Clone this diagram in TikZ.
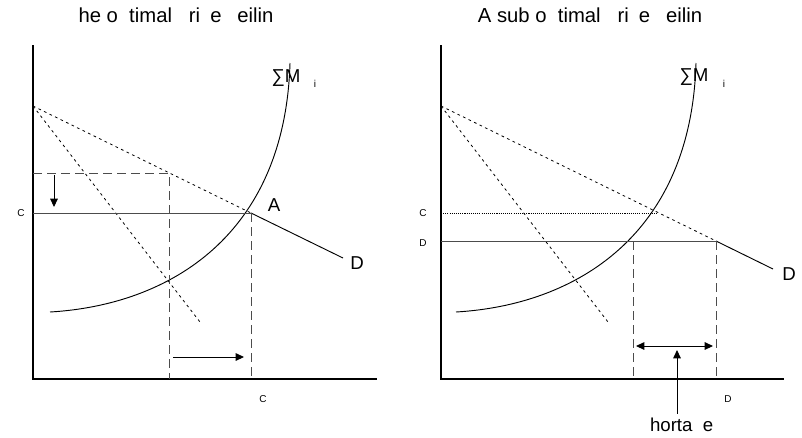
\documentclass[tikz,border=0pt]{standalone}
\usepackage{fontspec}
\setmainfont{Liberation Sans}
\usetikzlibrary{arrows.meta}

\begin{document}
\begin{tikzpicture}[
  x=0.75pt, y=-0.75pt, font=\fontsize{14}{16}\selectfont,
  >={Triangle[length=2.2mm,width=2mm]},
  axis/.style={line width=1.5pt},
  dem/.style={dash pattern=on 2pt off 2.6pt, line width=0.6pt},
  guide/.style={dash pattern=on 7pt off 3.5pt, gray!60!black, line width=0.7pt},
  lvl/.style={line width=0.7pt, gray!60!black},
  fine/.style={dash pattern=on 0.8pt off 0.8pt, line width=0.6pt},
  curve/.style={line width=0.7pt},
  ttl/.style={font=\fontsize{15.2}{17}\selectfont},
  lbl/.style={inner sep=0pt, font=\fontsize{7.5}{9}\selectfont},
  arr/.style={->, line width=0.7pt}]
  \useasboundingbox (0,0) rectangle (802,437);
  % left panel: optimal ceiling
  \node[ttl] (ttl1) at (176,17) {he o\phantom{p}timal \phantom{p}ri\phantom{c}e \phantom{c}eilin};
  \coordinate (top1) at (33,45);
  \coordinate (o1) at (33,379);
  \coordinate (end1) at (377,379);
  \coordinate (int1) at (33,106);
  \coordinate (A1) at (251,213);
  \coordinate (dend1) at (343,258);
  \coordinate (steep1) at (200,322);
  \coordinate (mcs1) at (50,312);
  \coordinate (mct1) at (290,63);
  \coordinate (pc1) at (33,213);
  \coordinate (pm1) at (33,173);
  \coordinate (pk1) at (169,173);
  \coordinate (qk1) at (169,379);
  \coordinate (qc1) at (251,379);
  \coordinate (da1) at (54,175);
  \coordinate (db1) at (54,207);
  \coordinate (ra1) at (173,357);
  \coordinate (rb1) at (244,357);
  \draw[axis] (top1) -- (o1) -- (end1);
  \draw[dem] (int1) -- (A1);
  \draw[curve] (A1) -- (dend1);
  \draw[dem] (int1) -- (steep1);
  \draw[curve] (mcs1) .. controls (170,305) and (285,235) .. (mct1);
  \draw[lvl] (pc1) -- (A1);
  \draw[guide] (pm1) -- (pk1) -- (qk1);
  \draw[guide] (A1) -- (qc1);
  \draw[arr] (da1) -- (db1);
  \draw[arr] (ra1) -- (rb1);
  \node[lbl] (c1) at (21,213) {C};
  \node[lbl] (cq1) at (263,399) {C};
  \node (a1) at (274,205) {A};
  \node (d1) at (357,263) {D};
  \node (mc1) at (286,78) {∑M};
  \node[lbl] (i1) at (315,84) {i};
  % right panel: suboptimal ceiling
  \node[ttl] (ttl2) at (590,17) {A sub o\phantom{p}timal \phantom{p}ri\phantom{c}e \phantom{c}eilin};
  \coordinate (top2) at (441,45);
  \coordinate (o2) at (441,379);
  \coordinate (end2) at (784,379);
  \coordinate (int2) at (441,106);
  \coordinate (B2) at (716,241);
  \coordinate (dend2) at (773,269);
  \coordinate (steep2) at (608,322);
  \coordinate (mcs2) at (456,312);
  \coordinate (mct2) at (696,63);
  \coordinate (pc2) at (441,213);
  \coordinate (cx2) at (657,213);
  \coordinate (pd2) at (441,241);
  \coordinate (sx2) at (633,241);
  \coordinate (qs2) at (633,379);
  \coordinate (qd2) at (716,379);
  \coordinate (la2) at (636,346);
  \coordinate (lb2) at (713,346);
  \coordinate (up2) at (677,350);
  \draw[axis] (top2) -- (o2) -- (end2);
  \draw[dem] (int2) -- (B2);
  \draw[curve] (B2) -- (dend2);
  \draw[dem] (int2) -- (steep2);
  \draw[curve] (mcs2) .. controls (576,305) and (691,235) .. (mct2);
  \draw[fine] (pc2) -- (cx2);
  \draw[lvl] (pd2) -- (B2);
  \draw[guide] (sx2) -- (qs2);
  \draw[guide] (B2) -- (qd2);
  \draw[<->, line width=0.7pt] (la2) -- (lb2);
  \node (short2) at (677,427) {\phantom{s}horta\phantom{g}e};
  \draw[arr] (short2.north) -- (up2);
  \node[lbl] (c2) at (423,213) {C};
  \node[lbl] (d2) at (423,243) {D};
  \node[lbl] (dq2) at (728,399) {D};
  \node (dd2) at (789,274) {D};
  \node (mc2) at (694,77) {∑M};
  \node[lbl] (i2) at (724,84) {i};
\end{tikzpicture}
\end{document}
